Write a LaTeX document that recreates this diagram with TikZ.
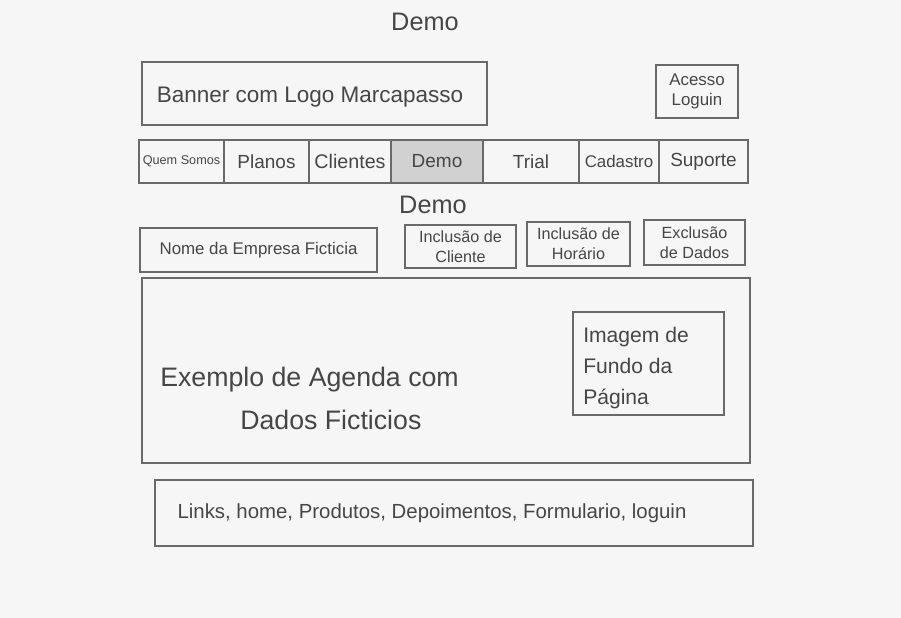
\documentclass[tikz,border=0pt]{standalone}
\usepackage{fontspec}
\setmainfont{Liberation Sans}
\usepackage{tikz}
\usetikzlibrary{positioning,fit}
\definecolor{paper}{RGB}{246,246,246}
\definecolor{pencil}{RGB}{105,105,105}
\definecolor{lead}{RGB}{70,70,70}
\tikzset{
    box/.style={
        rectangle,
        draw=pencil,
        line width=0.8pt,
        inner sep=0pt
    },
    txt/.style={
        text=lead,
        inner sep=0pt,
        align=center,
        font=\fontsize{13.5}{16}\selectfont
    },
    small/.style={
        txt,
        font=\fontsize{11.5}{14}\selectfont
    },
    title/.style={
        txt,
        font=\fontsize{18}{21}\selectfont
    }
}

\begin{document}
\begin{tikzpicture}[x=0.025cm,y=-0.025cm]
\fill[paper] (0,0) rectangle (901,618);
\useasboundingbox (0,0) rectangle (901,618);

\node[title] (top) at (425,22) {Demo};

% banner and login
\node[box, fit={(142,62) (487,125)}] (banner) {};
\node[txt, font=\fontsize{16}{19}\selectfont] (bannertxt) at (310,97) {Banner com Logo Marcapasso};
\node[box, fit={(656,65) (738,118)}] (login) {};
\node[small, font=\fontsize{12}{14}\selectfont] (logintxt) at (login) {Acesso\\Loguin};

% menu
\node[box, fit={(139,140) (224,183)}] (quem) {};
\node[box, fit={(224,140) (309,183)}] (planos) {};
\node[box, fit={(309,140) (391,183)}] (clientes) {};
\node[box, fit={(391,140) (483,183)}, fill=black!18] (demo) {};
\node[box, fit={(483,140) (579,183)}] (trial) {};
\node[box, fit={(579,140) (659,183)}] (cadastro) {};
\node[box, fit={(659,140) (748,183)}] (suporte) {};
\node[txt, font=\fontsize{9}{11}\selectfont] at (quem) {Quem Somos};
\node[txt] at (planos) {Planos};
\node[txt, font=\fontsize{14}{16}\selectfont] at (clientes) {Clientes};
\node[txt] at (demo) {Demo};
\node[txt] at (trial) {Trial};
\node[txt, font=\fontsize{12}{16}\selectfont] at (cadastro) {Cadastro};
\node[txt] at (suporte) {Suporte};

\node[title] (sub) at (433,205) {Demo};

% actions
\node[box, fit={(140,228) (377,272)}] (empresa) {};
\node[txt, font=\fontsize{12}{14}\selectfont] at (empresa) {Nome da Empresa Ficticia};
\node[box, fit={(405,225) (516,268)}] (inccli) {};
\node[small] at (inccli) {Inclusão de\\Cliente};
\node[box, fit={(527,222) (630,266)}] (inchor) {};
\node[small] at (inchor) {Inclusão de\\Horário};
\node[box, fit={(644,220) (745,265)}] (exc) {};
\node[small] at (exc) {Exclusão\\de Dados};

% agenda
\node[box, fit={(142,278) (750,463)}] (agenda) {};
\node[title, font=\fontsize{19}{22}\selectfont, anchor=west] (ex1) at (160,380) {Exemplo de Agenda com};
\node[title, font=\fontsize{19}{22}\selectfont, anchor=west] (ex2) at (240,420) {Dados Ficticios};
\node[box, fit={(573,312) (724,415)}] (fundo) {};
\node[txt, font=\fontsize{15}{22}\selectfont, align=left, anchor=north west] at (583,327) {Imagem de\\Fundo da\\Página};

% footer
\node[box, fit={(155,480) (753,546)}] (footer) {};
\node[txt, font=\fontsize{14.5}{17}\selectfont] at (432,513) {Links, home, Produtos, Depoimentos, Formulario, loguin};
\end{tikzpicture}
\end{document}
